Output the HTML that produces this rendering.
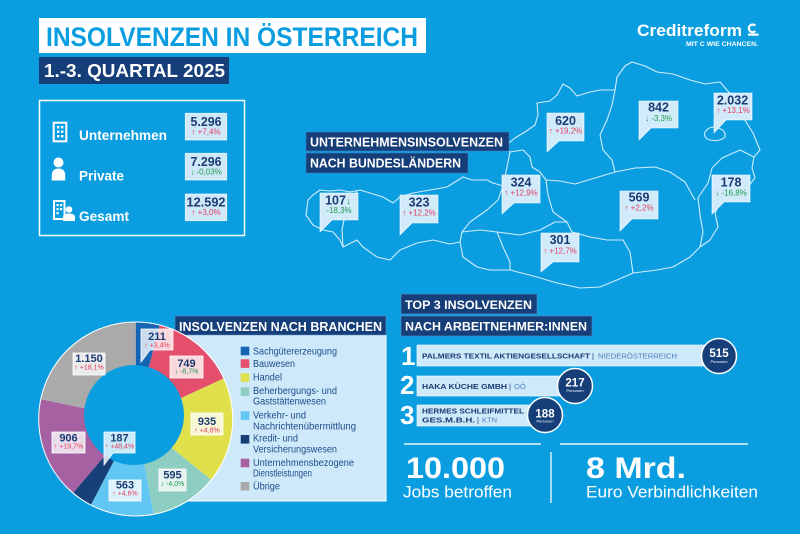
<!DOCTYPE html>
<html><head><meta charset="utf-8"><style>
html,body{margin:0;padding:0;background:#0a9ee1;}
svg{display:block;}
text{font-family:"Liberation Sans","DejaVu Sans",sans-serif;}
.b{font-weight:bold;}
.nv{fill:#1b3b73;}
.rd{fill:#e23b5c;}
.gn{fill:#1d9a4a;}
.w{fill:#fff;}
.lg{fill:#1f4a8a;font-size:10px;}
</style></head><body>
<svg width="800" height="534" viewBox="0 0 800 534" xmlns="http://www.w3.org/2000/svg">
<rect x="0" y="0" width="800" height="534" fill="#0a9ee1"/>

<!-- Title -->
<rect x="39" y="18" width="387" height="35" fill="#fff"/>
<text x="46" y="46" class="b" font-size="27" fill="#0a9ee1" textLength="372" lengthAdjust="spacingAndGlyphs">INSOLVENZEN IN ÖSTERREICH</text>
<rect x="39" y="57" width="190" height="27" fill="#163e78"/>
<text x="44" y="77" class="b w" font-size="18" textLength="181" lengthAdjust="spacingAndGlyphs">1.-3. QUARTAL 2025</text>

<!-- Logo -->
<text x="637" y="36" class="b w" font-size="17" textLength="105" lengthAdjust="spacingAndGlyphs">Creditreform</text>
<path d="M755.3,25.6 A3.8,3.8 0 1 0 755.3,31" fill="none" stroke="#fff" stroke-width="2.2"/>
<rect x="748" y="33.5" width="10.5" height="2.2" fill="#fff"/>
<text x="686" y="46" class="b w" font-size="6.5" textLength="72" lengthAdjust="spacingAndGlyphs">MIT C WIE CHANCEN.</text>

<!-- Stats box -->
<rect x="39.5" y="100.5" width="205" height="135" fill="none" stroke="#fff" stroke-width="1.5"/>
<!-- building icon -->
<rect x="53.7" y="122.7" width="12.6" height="18.6" fill="none" stroke="#fff" stroke-width="2"/>
<rect x="57" y="126" width="2.4" height="2.4" fill="#fff"/><rect x="61" y="126" width="2.4" height="2.4" fill="#fff"/>
<rect x="57" y="130.5" width="2.4" height="2.4" fill="#fff"/><rect x="61" y="130.5" width="2.4" height="2.4" fill="#fff"/>
<rect x="57" y="135" width="2.4" height="2.4" fill="#fff"/><rect x="61" y="135" width="2.4" height="2.4" fill="#fff"/>
<text x="79" y="140" class="b w" font-size="13.5" textLength="88" lengthAdjust="spacingAndGlyphs">Unternehmen</text>
<!-- person icon -->
<circle cx="58.5" cy="162.5" r="5" fill="#fff"/>
<path d="M51.8,180.5 L51.8,175.5 Q51.8,168.5 58.5,168.5 Q65.2,168.5 65.2,175.5 L65.2,180.5 Z" fill="#fff"/>
<text x="79" y="180.5" class="b w" font-size="13.5" textLength="45" lengthAdjust="spacingAndGlyphs">Private</text>
<!-- gesamt icon -->
<rect x="54" y="201" width="10.5" height="18" fill="none" stroke="#fff" stroke-width="2"/>
<rect x="56.5" y="204" width="2.2" height="2.2" fill="#fff"/><rect x="60" y="204" width="2.2" height="2.2" fill="#fff"/>
<rect x="56.5" y="208" width="2.2" height="2.2" fill="#fff"/><rect x="60" y="208" width="2.2" height="2.2" fill="#fff"/>
<rect x="56.5" y="212" width="2.2" height="2.2" fill="#fff"/>
<circle cx="69" cy="209.5" r="3.3" fill="#fff"/>
<path d="M63,221 L63,217.5 Q63,213.5 69,213.5 Q75,213.5 75,217.5 L75,221 Z" fill="#fff"/>
<text x="79" y="221" class="b w" font-size="13.5" textLength="50" lengthAdjust="spacingAndGlyphs">Gesamt</text>

<g stroke="#fff" stroke-width="0.8" stroke-opacity="0.8" fill="#cfe8f8">
<rect x="185.3" y="113.3" width="41.4" height="26.7"/>
<rect x="185.3" y="153.3" width="41.4" height="26.7"/>
<rect x="185.3" y="194" width="41.4" height="26.7"/>
</g>
<text x="206" y="126" class="b nv" font-size="13" text-anchor="middle" textLength="31" lengthAdjust="spacingAndGlyphs">5.296</text>
<text x="206" y="134.5" class="rd" font-size="8" text-anchor="middle">↑ +7,4%</text>
<text x="206" y="166" class="b nv" font-size="13" text-anchor="middle" textLength="31" lengthAdjust="spacingAndGlyphs">7.296</text>
<text x="206" y="174.5" class="gn" font-size="8" text-anchor="middle">↓ -0,03%</text>
<text x="206" y="206.7" class="b nv" font-size="13" text-anchor="middle" textLength="39" lengthAdjust="spacingAndGlyphs">12.592</text>
<text x="206" y="215.2" class="rd" font-size="8" text-anchor="middle">↑ +3,0%</text>

<!-- Map -->
<g fill="none" stroke="#e6f5fd" stroke-width="1.1" stroke-linejoin="round" opacity="0.9">
<path d="M306,215 L308,200 L313,195 L320,190 L330,191 L340,190 L350,192 L360,190 L370,193 L383,197 L393,203 L400,197 L413,193 L430,190 L447,187 L463,177 L472,180 L487,180 L493,183 L503,186 L507,167 L510,152 L505,146 L515,138 L525,132 L535,125 L538,115 L537,103 L550,101 L557,95 L563,84 L570,88 L577,96 L590,92 L600,90 L615,90 L617,77 L625,66 L632,62 L645,66 L657,72 L673,74 L690,80 L705,84 L720,82 L733,97 L743,117 L753,133 L760,150 L754,157 L752,168 L755,178 L745,190 L733,197 L720,203 L715,213 L718,227 L710,240 L700,247 L690,257 L673,267 L657,270 L633,273 L617,280 L600,287 L580,288 L557,283 L537,277 L510,270 L490,270 L477,267 L463,257 L460,242 L450,244 L433,240 L417,243 L400,250 L390,260 L377,257 L363,247 L357,240 L343,247 L340,240 L333,232 L323,230 L313,225 Z"/>
<path d="M357,190 L352,205 L345,215 L342,230 L343,247"/>
<path d="M503,186 L498,200 L487,210 L470,222 L462,232 L460,242"/>
<path d="M462,232 L480,230 L497,232 L503,247 L510,262 L510,270"/>
<path d="M497,232 L520,235 L540,230 L555,222 L567,222 L572,232 L590,237 L607,240 L623,240 L630,252 L633,273"/>
<path d="M510,152 L523,150 L530,157 L532,167 L540,172 L546,180 L548,195 L553,212 L567,222"/>
<path d="M546,180 L560,181 L575,184 L595,178 L615,172"/>
<path d="M615,90 L612,105 L607,120 L600,135 L603,150 L612,160 L615,172"/>
<path d="M615,172 L635,168 L655,167 L670,172 L685,182 L695,200"/>
<path d="M754,157 L740,150 L722,158 L712,168 L708,183 L698,198 L700,215 L703,232 L700,247"/>
<path d="M705,132 Q710,125 718,128 Q726,130 725,137 Q720,142 710,140 Q703,138 705,132 Z"/>
</g>

<rect x="306" y="132" width="203" height="19" fill="#163e78" stroke="#3f7fc0" stroke-width="0.6"/>
<rect x="306" y="153" width="162" height="20" fill="#163e78" stroke="#3f7fc0" stroke-width="0.6"/>
<text x="310" y="146.7" class="b w" font-size="12.5" textLength="193" lengthAdjust="spacingAndGlyphs">UNTERNEHMENSINSOLVENZEN</text>
<text x="310" y="167.3" class="b w" font-size="12.5" textLength="151" lengthAdjust="spacingAndGlyphs">NACH BUNDESLÄNDERN</text>

<!-- Map callouts -->
<g fill="#d2ebfb" stroke="#fff" stroke-width="0.6">
<path d="M320,193 H358 V220 H332 L320,232 Z"/>
<path d="M400,195 H438 V223 H412 L400,235 Z"/>
<path d="M502,175 H540 V203 H514 L502,214 Z"/>
<path d="M547,113 H584 V141 H559 L547,152 Z"/>
<path d="M639,101 H678 V128 H651 L639,140 Z"/>
<path d="M714,93 H752 V120 H726 L714,133 Z"/>
<path d="M712,175 H750 V202 H724 L712,214 Z"/>
<path d="M620,191 H658 V219 H632 L620,231 Z"/>
<path d="M541,233 H579 V262 H553 L541,272 Z"/>
</g>
<g class="b nv" font-size="12.5" text-anchor="middle">
<text x="335.5" y="204.3">107</text>
<text x="419" y="206.7">323</text>
<text x="521" y="186.7">324</text>
<text x="565.5" y="125">620</text>
<text x="658.5" y="111.7">842</text>
<text x="732.5" y="104.3">2.032</text>
<text x="731" y="186.7">178</text>
<text x="639" y="201.7">569</text>
<text x="560" y="244">301</text>
</g>
<text x="348.5" y="204" class="b gn" font-size="10" text-anchor="middle">↓</text>
<g font-size="8" text-anchor="middle">
<text x="339" y="213" class="gn">-18,3%</text>
<text x="419" y="215.7" class="rd">↑ +12,2%</text>
<text x="521" y="195.7" class="rd">↑ +12,9%</text>
<text x="565.5" y="133.7" class="rd">↑ +19,2%</text>
<text x="658.5" y="121" class="gn">↓ -3,3%</text>
<text x="733" y="113" class="rd">↑ +13,1%</text>
<text x="731" y="195.7" class="gn">↓ -16,8%</text>
<text x="639" y="210.7" class="rd">↑ +2,2%</text>
<text x="560" y="253.3" class="rd">↑ +12,7%</text>
</g>

<!-- Branchen legend panel -->
<rect x="175" y="335" width="211" height="166" fill="#cde9fa" stroke="#fff" stroke-width="1"/>
<rect x="175" y="316" width="211" height="19" fill="#163e78" stroke="#5a8fc8" stroke-width="0.6"/>
<text x="179" y="331" class="b w" font-size="13" textLength="203" lengthAdjust="spacingAndGlyphs">INSOLVENZEN NACH BRANCHEN</text>

<rect x="240.7" y="346.7" width="8.6" height="8.6" fill="#1565b4"/>
<rect x="240.7" y="359.3" width="8.6" height="8.6" fill="#e4506b"/>
<rect x="240.7" y="373.3" width="8.6" height="8.6" fill="#dfe04b"/>
<rect x="240.7" y="387.3" width="8.6" height="8.6" fill="#8ecdc1"/>
<rect x="240.7" y="411.3" width="8.6" height="8.6" fill="#62c6f2"/>
<rect x="240.7" y="435" width="8.6" height="8.6" fill="#173f78"/>
<rect x="240.7" y="458.7" width="8.6" height="8.6" fill="#a561a2"/>
<rect x="240.7" y="482" width="8.6" height="8.6" fill="#aaaaaa"/>
<g class="lg">
<text x="253" y="354.3" textLength="84" lengthAdjust="spacingAndGlyphs">Sachgütererzeugung</text>
<text x="253" y="367" textLength="42" lengthAdjust="spacingAndGlyphs">Bauwesen</text>
<text x="253" y="380.3" textLength="29" lengthAdjust="spacingAndGlyphs">Handel</text>
<text x="253" y="394" textLength="84" lengthAdjust="spacingAndGlyphs">Beherbergungs- und</text>
<text x="253" y="404.3" textLength="73" lengthAdjust="spacingAndGlyphs">Gaststättenwesen</text>
<text x="253" y="418.3" textLength="53" lengthAdjust="spacingAndGlyphs">Verkehr- und</text>
<text x="253" y="429.3" textLength="103" lengthAdjust="spacingAndGlyphs">Nachrichtenübermittlung</text>
<text x="253" y="441.7" textLength="45" lengthAdjust="spacingAndGlyphs">Kredit- und</text>
<text x="253" y="452.3" textLength="84" lengthAdjust="spacingAndGlyphs">Versicherungswesen</text>
<text x="253" y="466" textLength="101" lengthAdjust="spacingAndGlyphs">Unternehmensbezogene</text>
<text x="253" y="476.7" textLength="59" lengthAdjust="spacingAndGlyphs">Dienstleistungen</text>
<text x="253" y="489.3" textLength="27" lengthAdjust="spacingAndGlyphs">Übrige</text>
</g>

<!-- Donut -->
<circle cx="135.7" cy="419" r="97.5" fill="#fff"/>
<path d="M135.7,419 L135.7,322.5 A96.5,96.5 0 0 1 159.6,325.51 Z" fill="#1565b4"/>
<path d="M135.7,419 L159.6,325.51 A96.5,96.5 0 0 1 223.35,378.62 Z" fill="#e4506b"/>
<path d="M135.7,419 L223.35,378.62 A96.5,96.5 0 0 1 210.89,479.49 Z" fill="#dfe04b"/>
<path d="M135.7,419 L210.89,479.49 A96.5,96.5 0 0 1 153.67,513.81 Z" fill="#8ecdc1"/>
<path d="M135.7,419 L153.67,513.81 A96.5,96.5 0 0 1 91.08,504.57 Z" fill="#62c6f2"/>
<path d="M135.7,419 L91.08,504.57 A96.5,96.5 0 0 1 73.37,492.67 Z" fill="#173f78"/>
<path d="M135.7,419 L73.37,492.67 A96.5,96.5 0 0 1 41.25,399.2 Z" fill="#a561a2"/>
<path d="M135.7,419 L41.25,399.2 A96.5,96.5 0 0 1 135.7,322.5 Z" fill="#aaaaaa"/>
<circle cx="134" cy="415" r="50" fill="#0a9ee1"/>

<g fill="#ffffff" fill-opacity="0.78" stroke="#fff" stroke-width="0.8">
<path d="M141,329 H173 V350 H150 L141,362 Z"/>
<rect x="170" y="356" width="33" height="22"/>
<rect x="73" y="353" width="32" height="22"/>
<rect x="191" y="413" width="32" height="22"/>
<rect x="52" y="432" width="33" height="21"/>
<path d="M104,432 H135 V453 H113 L104,465 Z"/>
<rect x="159" y="469" width="27" height="22"/>
<rect x="109" y="480" width="32" height="21"/>
</g>
<g class="b nv" font-size="11" text-anchor="middle">
<text x="157" y="340">211</text>
<text x="186.5" y="367">749</text>
<text x="89" y="362">1.150</text>
<text x="207" y="425">935</text>
<text x="68.5" y="441.7">906</text>
<text x="119.5" y="441.7">187</text>
<text x="172.5" y="478.3">595</text>
<text x="125" y="488.5">563</text>
</g>
<g font-size="7" text-anchor="middle">
<text x="157" y="347.5" class="rd">↑ +3,4%</text>
<text x="186.5" y="373.5" class="gn">↓ -8,7%</text>
<text x="89" y="369.5" class="rd">↑ +18,1%</text>
<text x="207" y="432.3" class="rd">↑ +4,8%</text>
<text x="68.5" y="448.5" class="rd">↑ +19,7%</text>
<text x="119.5" y="448.5" class="rd">↑ +48,4%</text>
<text x="172.5" y="486" class="gn">↓ -4,0%</text>
<text x="125" y="495.5" class="rd">↑ +4,6%</text>
</g>

<!-- Top 3 -->
<rect x="401" y="294" width="136" height="20" fill="#163e78" stroke="#5a8fc8" stroke-width="0.6"/>
<rect x="401" y="316" width="191" height="20" fill="#163e78" stroke="#5a8fc8" stroke-width="0.6"/>
<text x="405" y="309" class="b w" font-size="12" textLength="127" lengthAdjust="spacingAndGlyphs">TOP 3 INSOLVENZEN</text>
<text x="405" y="330.3" class="b w" font-size="12" textLength="182" lengthAdjust="spacingAndGlyphs">NACH ARBEITNEHMER:INNEN</text>

<text x="401" y="365" class="b w" font-size="26">1</text>
<text x="400" y="394" class="b w" font-size="26">2</text>
<text x="400" y="424" class="b w" font-size="26">3</text>

<g fill="#cde9fa" stroke="#fff" stroke-width="0.6">
<rect x="417" y="345" width="291" height="21"/>
<rect x="417" y="376" width="145" height="20"/>
<rect x="417" y="405" width="115" height="21"/>
</g>
<text x="422" y="358.7" class="b nv" font-size="7.5" textLength="168" lengthAdjust="spacingAndGlyphs">PALMERS TEXTIL AKTIENGESELLSCHAFT</text>
<text x="592" y="358.7" class="nv" font-size="7.5">|</text>
<text x="598" y="358.7" font-size="7.5" fill="#4f7fb8" textLength="79" lengthAdjust="spacingAndGlyphs">NIEDERÖSTERREICH</text>
<text x="422" y="389" class="b nv" font-size="7.5" textLength="85" lengthAdjust="spacingAndGlyphs">HAKA KÜCHE GMBH</text>
<text x="509" y="389" class="nv" font-size="7.5">|</text>
<text x="514" y="389" font-size="7.5" fill="#4f7fb8">OÖ</text>
<text x="422" y="413.5" class="b nv" font-size="7.5" textLength="102" lengthAdjust="spacingAndGlyphs">HERMES SCHLEIFMITTEL</text>
<text x="422" y="422.5" class="b nv" font-size="7.5" textLength="53" lengthAdjust="spacingAndGlyphs">GES.M.B.H.</text>
<text x="477" y="422.5" class="nv" font-size="7.5">|</text>
<text x="482" y="422.5" font-size="7.5" fill="#4f7fb8">KTN</text>

<g fill="#163e78" stroke="#fff" stroke-width="1.5">
<circle cx="719" cy="356" r="17.5"/>
<circle cx="575" cy="386" r="17.5"/>
<circle cx="545" cy="415" r="17.5"/>
</g>
<g class="b w" text-anchor="middle">
<text x="719" y="357" font-size="11.5">515</text>
<text x="575" y="386.7" font-size="11.5">217</text>
<text x="545" y="417.3" font-size="11.5">188</text>
</g>
<g class="w" text-anchor="middle" font-size="4">
<text x="719" y="363">Personen</text>
<text x="575" y="392">Personen</text>
<text x="545" y="422.5">Personen</text>
</g>

<!-- bottom stats -->
<g stroke="#e6f5fd" stroke-width="1.4">
<line x1="404" y1="444" x2="541" y2="444"/>
<line x1="560" y1="444" x2="748" y2="444"/>
<line x1="551" y1="452" x2="551" y2="503"/>
</g>
<text x="406" y="478" class="b w" font-size="30" textLength="99" lengthAdjust="spacingAndGlyphs">10.000</text>
<text x="403" y="497.5" class="w" font-size="17" textLength="109" lengthAdjust="spacingAndGlyphs">Jobs betroffen</text>
<text x="586" y="478" class="b w" font-size="30" textLength="100" lengthAdjust="spacingAndGlyphs">8 Mrd.</text>
<text x="586" y="497.5" class="w" font-size="17" textLength="172" lengthAdjust="spacingAndGlyphs">Euro Verbindlichkeiten</text>
</svg>
</body></html>
